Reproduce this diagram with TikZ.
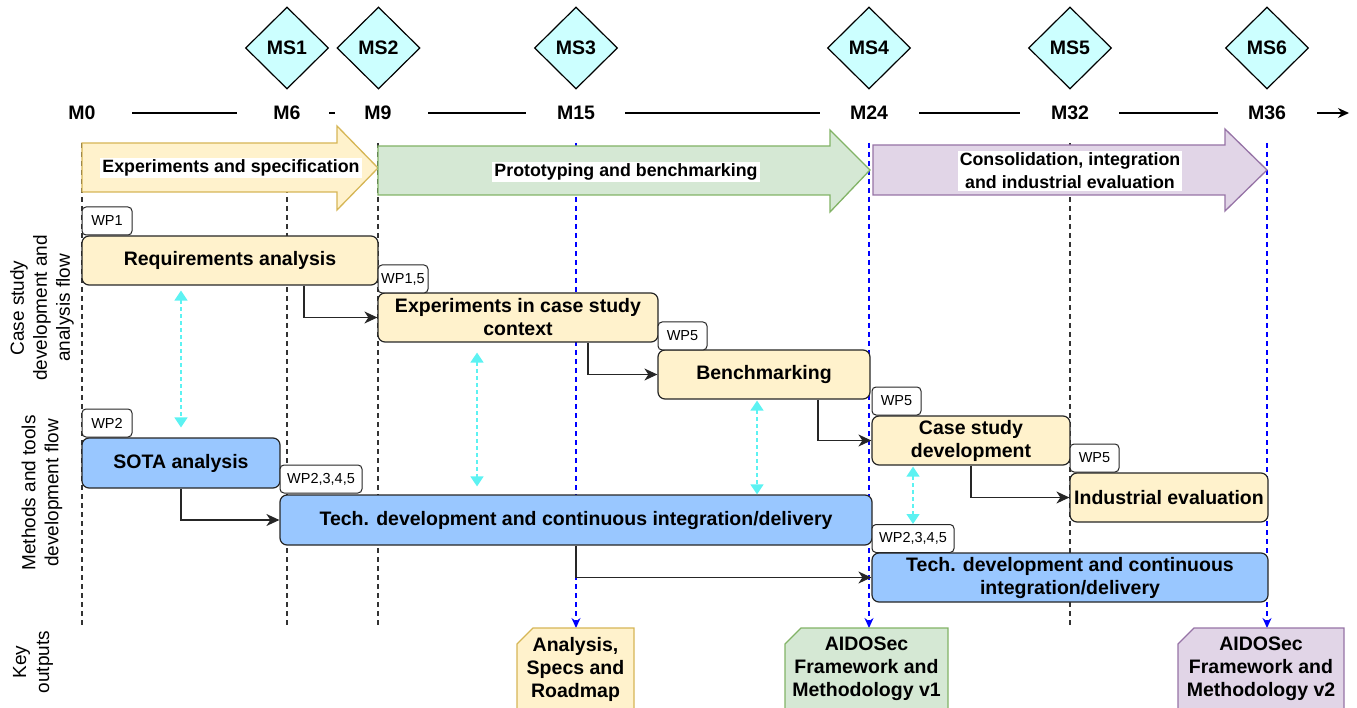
\documentclass[tikz,border=0pt]{standalone}
\usepackage{fontspec}
\setmainfont{Liberation Sans}
\usetikzlibrary{arrows.meta, shapes.geometric}

\definecolor{yFill}{HTML}{FFF2CC}
\definecolor{yStroke}{HTML}{D6B656}
\definecolor{gFill}{HTML}{D5E8D4}
\definecolor{gStroke}{HTML}{82B366}
\definecolor{pFill}{HTML}{E1D5E7}
\definecolor{pStroke}{HTML}{9673A6}
\definecolor{bFill}{HTML}{99C7FF}
\definecolor{msFill}{HTML}{CCFFFF}
\definecolor{syncC}{HTML}{5CF2F2}
\definecolor{guideC}{HTML}{333333}

\begin{document}
\begin{tikzpicture}[x=1pt, y=-1pt,
  bigbold/.style={font=\bfseries\fontsize{19.5}{23}\selectfont},
  task/.style={bigbold, draw=black!85, line width=1.2pt, rounded corners=7pt,
    align=center, inner sep=0pt},
  ytask/.style={task, fill=yFill},
  btask/.style={task, fill=bFill},
  wptag/.style={draw=black!85, line width=1pt, rounded corners=4pt, fill=white,
    inner sep=0pt, minimum height=28pt, font=\fontsize{14.5}{17}\selectfont},
  month/.style={bigbold, inner sep=0pt},
  milestone/.style={bigbold, diamond, draw=black, line width=1.2pt, fill=msFill,
    minimum width=83pt, minimum height=82pt, inner sep=0pt},
  guide/.style={draw=guideC, line width=1.3pt, dash pattern=on 5pt off 4pt},
  keyline/.style={draw=blue, line width=1.3pt, dash pattern=on 5pt off 4pt,
    -{Stealth[length=10pt,width=9pt]}},
  flow/.style={draw=black!85, line width=1.3pt, -{Stealth[length=13pt,width=12pt,inset=4pt]}},
  sync/.style={draw=syncC, line width=1.3pt, dash pattern=on 4pt off 3pt,
    {Triangle[length=10pt,width=13pt]}-{Triangle[length=10pt,width=13pt]}},
  phaselabel/.style={fill=white, inner sep=2pt, align=center,
    font=\bfseries\fontsize{17.8}{23}\selectfont},
  phase/.style={line width=1.3pt},
  outtext/.style={bigbold, align=center, inner sep=0pt},
  side/.style={rotate=90, align=center, inner sep=0pt, font=\fontsize{19}{23}\selectfont}
]
\useasboundingbox (0,0) rectangle (1357,708);
\clip (0,0) rectangle (1357,708);

% ---------- milestones ----------
\node[milestone] (ms1) at (287,48) {MS1};
\node[milestone] (ms2) at (378.5,48) {MS2};
\node[milestone] (ms3) at (576,48) {MS3};
\node[milestone] (ms4) at (869,48) {MS4};
\node[milestone] (ms5) at (1070,48) {MS5};
\node[milestone] (ms6) at (1267,48) {MS6};

% ---------- time axis ----------
\node[month] (m0)  at (82,113)   {M0};
\node[month] (m6)  at (287,113)  {M6};
\node[month] (m9)  at (378,113)  {M9};
\node[month] (m15) at (576,113)  {M15};
\node[month] (m24) at (869,113)  {M24};
\node[month] (m32) at (1070,113) {M32};
\node[month] (m36) at (1267,113) {M36};
\coordinate (tend) at (1349,113);

\draw[line width=1.3pt, shorten <=50pt, shorten >=50pt] (m0.center) -- (m6.center);
\draw[line width=1.3pt, shorten <=42pt, shorten >=43pt] (m6.center) -- (m9.center);
\draw[line width=1.3pt, shorten <=50pt, shorten >=50pt] (m9.center) -- (m15.center);
\draw[line width=1.3pt, shorten <=49pt, shorten >=49pt] (m15.center) -- (m24.center);
\draw[line width=1.3pt, shorten <=50pt, shorten >=50pt] (m24.center) -- (m32.center);
\draw[line width=1.3pt, shorten <=49pt, shorten >=49pt] (m32.center) -- (m36.center);
\draw[line width=1.3pt, shorten <=50pt, -{Stealth[length=11pt,width=10pt]}] (m36.center) -- (tend);

% ---------- vertical guides ----------
\coordinate (t0) at (82,143);    \coordinate (b0) at (82,628);
\coordinate (t6) at (287,143);   \coordinate (b6) at (287,628);
\coordinate (t9) at (378,143);   \coordinate (b9) at (378,628);
\coordinate (t15) at (576,143);
\coordinate (t24) at (869,143);
\coordinate (t32) at (1070,143); \coordinate (b32) at (1070,628);
\coordinate (t36) at (1267,143);
\coordinate (outAtop) at (576,628);
\coordinate (outBtop) at (869,628);
\coordinate (outCtop) at (1267,628);

\draw[guide] (t0) -- (b0);
\draw[guide] (t6) -- (b6);
\draw[guide] (t9) -- (b9);
\draw[guide] (t32) -- (b32);
\draw[keyline] (t15) -- (outAtop);
\draw[keyline] (t24) -- (outBtop);
\draw[keyline] (t36) -- (outCtop);

% ---------- phase arrows ----------
\filldraw[phase, fill=yFill, draw=yStroke]
  (82,143) -- (337,143) -- (337,126) -- (378,168) -- (337,210) -- (337,192) -- (82,192) -- cycle;
\filldraw[phase, fill=gFill, draw=gStroke]
  (378,146) -- (830,146) -- (830,130) -- (870,170) -- (830,212) -- (830,195) -- (378,195) -- cycle;
\filldraw[phase, fill=pFill, draw=pStroke]
  (873,145) -- (1225,145) -- (1225,129) -- (1267,170) -- (1225,211) -- (1225,195) -- (873,195) -- cycle;
\node[phaselabel] (phA) at (231,168) {Experiments and specification};
\node[phaselabel] (phB) at (626,172) {Prototyping and benchmarking};
\node[phaselabel] (phC) at (1070,171) {Consolidation, integration\\and industrial evaluation};

% ---------- lane titles ----------
\node[side] (laneA) at (42,308) {Case study\\development and\\analysis flow};
\node[side] (laneB) at (42,493) {Methods and tools\\development flow};
\node[side] (laneC) at (33,662) {Key\\outputs};

% ---------- case study tasks ----------
\node[ytask, minimum width=296pt, minimum height=49pt] (req) at (230,260.5) {Requirements analysis};
\node[ytask, minimum width=280pt, minimum height=49pt] (exp) at (518,317.5) {Experiments in case study\\context};
\node[ytask, minimum width=212pt, minimum height=49pt] (bench) at (764,374.5) {Benchmarking};
\node[ytask, minimum width=198pt, minimum height=49pt] (csd) at (971,440.5) {Case study\\development};
\node[ytask, minimum width=198pt, minimum height=49pt] (ind) at (1169,497.5) {Industrial evaluation};

% ---------- methods and tools tasks ----------
\node[btask, minimum width=198pt, minimum height=50pt] (sota) at (181,463) {SOTA analysis};
\node[btask, minimum width=592pt, minimum height=50pt] (tech1) at (576,520) {Tech. development and continuous integration/delivery};
\node[btask, minimum width=396pt, minimum height=49pt] (tech2) at (1070,577.5) {Tech. development and continuous\\integration/delivery};

% ---------- work package tags ----------
\node[wptag, minimum width=50pt] (wp1) at (107,221) {WP1};
\node[wptag, minimum width=50pt] (wp15) at (403,279) {WP1,5};
\node[wptag, minimum width=49pt] (wp5a) at (682.5,336) {WP5};
\node[wptag, minimum width=49pt] (wp5b) at (896.5,401) {WP5};
\node[wptag, minimum width=49pt] (wp5c) at (1094.5,458) {WP5};
\node[wptag, minimum width=50pt] (wp2) at (107,423) {WP2};
\node[wptag, minimum width=82pt] (wp2345a) at (321,479) {WP2,3,4,5};
\node[wptag, minimum width=82pt] (wp2345b) at (913,538.5) {WP2,3,4,5};

% ---------- sequence connectors ----------
\draw[flow] ([xshift=74pt]req.south) |- (exp.west);
\draw[flow] ([xshift=70pt]exp.south) |- (bench.west);
\draw[flow] ([xshift=54pt]bench.south) |- (csd.west);
\draw[flow] (csd.south) |- (ind.west);
\draw[flow] (sota.south) |- (tech1.west);
\draw[flow] (tech1.south) |- (tech2.west);

% ---------- interplay between the two flows ----------
\draw[sync, shorten <=5pt, shorten >=10pt] (sota.north |- req.south) -- (sota.north);
\draw[sync, shorten <=10pt, shorten >=8pt] ([xshift=-41pt]exp.south) -- ([xshift=-41pt]exp.south |- tech1.north);
\draw[sync, shorten <=1pt] ([xshift=-7pt]bench.south) -- ([xshift=-7pt]bench.south |- tech1.north);
\draw[sync, shorten <=1pt] (wp2345b.north |- csd.south) -- (wp2345b.north);

% ---------- key outputs ----------
\filldraw[phase, fill=yFill, draw=yStroke]
  (517,644) -- (533,628) -- (634,628) -- (634,712) -- (517,712) -- cycle;
\filldraw[phase, fill=gFill, draw=gStroke]
  (785,644) -- (801,628) -- (948,628) -- (948,712) -- (785,712) -- cycle;
\filldraw[phase, fill=pFill, draw=pStroke]
  (1178,644) -- (1194,628) -- (1344,628) -- (1344,712) -- (1178,712) -- cycle;
\node[outtext] (outA) at (575.5,669) {Analysis,\\Specs and\\Roadmap};
\node[outtext] (outB) at (866.5,669) {AIDOSec\\Framework and\\Methodology v1};
\node[outtext] (outC) at (1261,669) {AIDOSec\\Framework and\\Methodology v2};
\end{tikzpicture}
\end{document}
